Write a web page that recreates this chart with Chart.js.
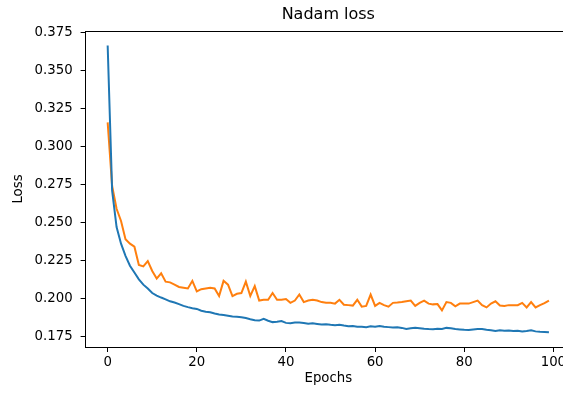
<!DOCTYPE html>
<html lang="en">
<head>
    <meta charset="UTF-8">
    <title>Nadam loss</title>
    <style>
        body {
            margin: 0;
            overflow: hidden;
            background-color: white;
        }
        .wrap {
            width: 563px;
            height: 394px;
            overflow: hidden;
        }
    </style>
</head>
<body>
    <div class="wrap">
        <canvas id="loss-chart" width="600" height="394" style="width:600px;height:394px;display:block;"></canvas>
    </div>

    <script src="https://cdn.jsdelivr.net/npm/chart.js"></script>
    <script>
        // Loss per epoch
        const trainLoss = [
            0.3667, 0.271, 0.247, 0.236, 0.228, 0.2215, 0.217, 0.2125, 0.209, 0.2065,
            0.2035, 0.2018, 0.2005, 0.1993, 0.198, 0.1972, 0.1962, 0.195, 0.1942, 0.1935,
            0.193, 0.1918, 0.1912, 0.1908, 0.19, 0.1893, 0.189, 0.1885, 0.188, 0.1878,
            0.1875, 0.187, 0.1862, 0.1856, 0.1853, 0.1864, 0.1852, 0.1843, 0.1845, 0.185,
            0.1838, 0.1836, 0.184, 0.184, 0.1837, 0.1832, 0.1835, 0.1831, 0.1827, 0.1829,
            0.1825, 0.1822, 0.1825, 0.182, 0.1816, 0.1818, 0.1813, 0.1812, 0.181, 0.1815,
            0.1813, 0.1818, 0.1812, 0.181, 0.1808, 0.1809, 0.1805, 0.1798, 0.1802, 0.1806,
            0.1803, 0.1799, 0.1797, 0.1796, 0.18, 0.1798, 0.1805, 0.1802, 0.1797, 0.1795,
            0.1792, 0.1791, 0.1795, 0.1797, 0.1798, 0.1793, 0.1789, 0.1785, 0.179, 0.1786,
            0.1788, 0.1784, 0.1786, 0.1781, 0.1785, 0.179, 0.1782, 0.1779, 0.1778, 0.1776
        ];
        const valLoss = [
            0.316, 0.274, 0.259, 0.251, 0.239, 0.236, 0.234, 0.222, 0.221, 0.2245,
            0.218, 0.213, 0.2165, 0.211, 0.2105, 0.209, 0.2075, 0.207, 0.2065, 0.2115,
            0.2045, 0.206, 0.2065, 0.207, 0.2065, 0.2015, 0.2115, 0.209, 0.2015, 0.203,
            0.2035, 0.211, 0.2015, 0.208, 0.1985, 0.199, 0.199, 0.2035, 0.199, 0.199,
            0.1995, 0.197, 0.1985, 0.2025, 0.1975, 0.1985, 0.199, 0.1985, 0.1975, 0.197,
            0.197, 0.1965, 0.199, 0.1958, 0.1955, 0.1952, 0.199, 0.1945, 0.195, 0.2025,
            0.195, 0.197, 0.1955, 0.1945, 0.197, 0.1972, 0.1975, 0.198, 0.1985, 0.195,
            0.197, 0.1985, 0.1965, 0.196, 0.1962, 0.192, 0.1975, 0.197, 0.1947, 0.1965,
            0.1965, 0.1965, 0.1975, 0.1985, 0.1955, 0.194, 0.1965, 0.198, 0.1952, 0.195,
            0.1955, 0.1955, 0.1955, 0.197, 0.194, 0.1975, 0.194, 0.1955, 0.1968, 0.1985
        ];
        const epochs = trainLoss.map((_, i) => i);
        const xTicks = [0, 20, 40, 60, 80, 100];
        const yTicks = [0.175, 0.2, 0.225, 0.25, 0.275, 0.3, 0.325, 0.35, 0.375];

        const FONT = 'DejaVu Sans';

        // top spine + title, matplotlib style (right spine falls outside the picture)
        const framePlugin = {
            id: 'frame',
            afterDraw(chart) {
                const { ctx, chartArea: a } = chart;
                ctx.save();
                ctx.strokeStyle = '#000';
                ctx.lineWidth = 1;
                ctx.beginPath();
                ctx.moveTo(Math.round(a.left), Math.round(a.top) + 0.5);
                ctx.lineTo(Math.round(a.right), Math.round(a.top) + 0.5);
                ctx.stroke();
                ctx.fillStyle = '#000';
                ctx.font = '16px "' + FONT + '"';
                ctx.textAlign = 'center';
                ctx.textBaseline = 'middle';
                ctx.fillText('Nadam loss', (a.left + a.right) / 2, 15);
                ctx.restore();
            }
        };

        const ctx = document.getElementById('loss-chart').getContext('2d');
        new Chart(ctx, {
            type: 'line',
            data: {
                datasets: [
                    {
                        label: 'train',
                        data: epochs.map(e => ({ x: e, y: trainLoss[e] })),
                        borderColor: '#1f77b4',
                        borderWidth: 2,
                        pointRadius: 0,
                        tension: 0
                    },
                    {
                        label: 'val',
                        data: epochs.map(e => ({ x: e, y: valLoss[e] })),
                        borderColor: '#ff7f0e',
                        borderWidth: 2,
                        pointRadius: 0,
                        tension: 0
                    }
                ]
            },
            options: {
                responsive: false,
                animation: false,
                layout: { padding: { top: 31, right: 29, left: 0, bottom: 0 } },
                plugins: {
                    legend: { display: false },
                    tooltip: { enabled: false }
                },
                scales: {
                    x: {
                        type: 'linear',
                        min: -4.95,
                        max: 103.95,
                        afterBuildTicks: s => { s.ticks = xTicks.map(v => ({ value: v })); },
                        afterFit: s => { s.height = 47; },
                        grid: { drawOnChartArea: false, tickLength: 5, tickColor: '#000' },
                        border: { color: '#000' },
                        ticks: {
                            color: '#000',
                            padding: 3,
                            maxRotation: 0,
                            font: { family: FONT, size: 13.3 }
                        },
                        title: {
                            display: true,
                            text: 'Epochs',
                            color: '#000',
                            font: { family: FONT, size: 13.3 },
                            padding: { top: 0, bottom: 7 }
                        }
                    },
                    y: {
                        min: 0.1679,
                        max: 0.3762,
                        afterBuildTicks: s => { s.ticks = yTicks.map(v => ({ value: v })); },
                        afterFit: s => { s.width = 85.6; },
                        grid: { drawOnChartArea: false, tickLength: 5, tickColor: '#000' },
                        border: { color: '#000' },
                        ticks: {
                            color: '#000',
                            padding: 8,
                            font: { family: FONT, size: 13.3 },
                            callback: v => v.toFixed(3)
                        },
                        title: {
                            display: true,
                            text: 'Loss',
                            color: '#000',
                            font: { family: FONT, size: 13.3 },
                            padding: { top: 11, bottom: 0 }
                        }
                    }
                }
            },
            plugins: [framePlugin]
        });
    </script>
</body>
</html>
